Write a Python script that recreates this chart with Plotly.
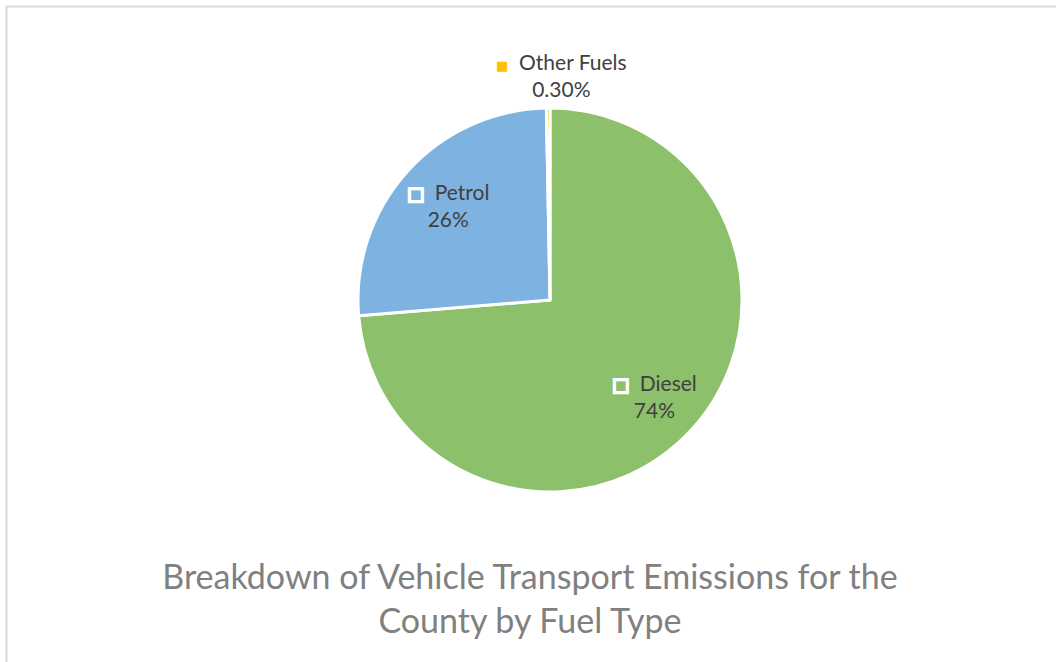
import math
import plotly.graph_objects as go

# ---- data ----
categories = ["Diesel", "Petrol", "Other Fuels"]
values = [73.7, 26.0, 0.3]
pct_labels = ["74%", "26%", "0.30%"]
colors = ["#8DC06B", "#7EB2E0", "#FFC000"]
title_text = "Breakdown of Vehicle Transport Emissions for the<br>County by Fuel Type"

W, H = 1056, 662
cx, cy, R = 550, 300, 192  # pixel geometry of the pie area

dom_x = [(cx - R) / W, (cx + R) / W]
dom_y = [1 - (cy + R) / H, 1 - (cy - R) / H]

fig = go.Figure()
fig.add_trace(go.Pie(
    labels=categories,
    values=values,
    sort=False,
    direction="clockwise",
    rotation=0,
    marker=dict(colors=colors, line=dict(color="white", width=3)),
    textinfo="none",
    hoverinfo="label+percent",
    domain=dict(x=dom_x, y=dom_y),
    showlegend=False,
))

# label positions derived from slice mid-angles
total = sum(values)
cum = 0
radial = [0.74, 0.74, 1.17]
xshift = [0, 3, 14]
annotations = []
for i, (cat, v) in enumerate(zip(categories, values)):
    mid = (cum + v / 2) / total * 2 * math.pi
    cum += v
    px = cx + R * radial[i] * math.sin(mid)
    py = cy - R * radial[i] * math.cos(mid)
    if i == 2:
        marker = "<span style='color:%s;font-size:13px;font-family:DejaVu Sans'>■</span>" % colors[i]
    else:
        marker = ("<span style='color:white;font-size:18px;font-family:DejaVu Sans;"
                  "stroke:white;stroke-width:2.2px'>□</span>")
    annotations.append(dict(
        x=px / W, y=1 - py / H, xref="paper", yref="paper",
        xanchor="center", yanchor="middle",
        text="%s  %s<br>%s" % (marker, cat, pct_labels[i]),
        showarrow=False, align="center", xshift=xshift[i],
        font=dict(family="Lato, Open Sans, sans-serif", size=21, color="#404040"),
    ))

fig.update_layout(
    width=W, height=H,
    margin=dict(l=0, r=0, t=0, b=0),
    paper_bgcolor="white",
    plot_bgcolor="white",
    title=dict(
        text=title_text,
        x=530 / W, xanchor="center", xref="paper",
        y=1 - 589 / H, yanchor="middle", yref="paper",
        font=dict(family="Lato, Open Sans, sans-serif", size=34, color="#808080"),
    ),
    annotations=annotations,
    shapes=[dict(
        type="rect", xref="paper", yref="paper",
        x0=6.5 / W, x1=1.02, y0=-0.02, y1=1 - 6.5 / H,
        line=dict(color="#D9D9D9", width=2), fillcolor="rgba(0,0,0,0)", layer="below",
    )],
)

fig.write_html("out.html", config={"displayModeBar": False},
               post_script="document.body.style.margin='0';document.body.style.overflow='hidden';")
